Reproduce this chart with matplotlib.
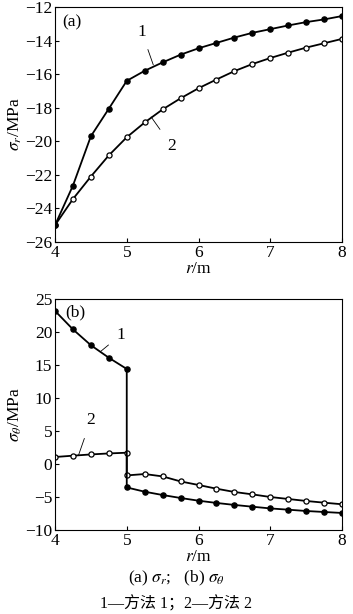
import matplotlib
matplotlib.use("Agg")
import matplotlib.pyplot as plt

r = [4.0, 4.25, 4.5, 4.75, 5.0, 5.25, 5.5, 5.75, 6.0, 6.25, 6.5, 6.75, 7.0, 7.25, 7.5, 7.75, 8.0]

sr_m1 = [-25.0, -22.64, -19.7, -18.06, -16.4, -15.8, -15.3, -14.84, -14.46, -14.14,
         -13.82, -13.54, -13.32, -13.1, -12.9, -12.74, -12.54]
sr_m2 = [-25.0, -23.44, -22.1, -20.84, -19.76, -18.88, -18.1, -17.44, -16.84, -16.32,
         -15.82, -15.4, -15.04, -14.72, -14.42, -14.16, -13.9]

# sigma_theta: inner part (r=4..5) and outer part (r=5..8)
r_in = [4.0, 4.25, 4.5, 4.75, 5.0]
r_out = [5.0, 5.25, 5.5, 5.75, 6.0, 6.25, 6.5, 6.75, 7.0, 7.25, 7.5, 7.75, 8.0]
st_m1_in = [23.2, 20.4, 18.0, 16.1, 14.4]
st_m1_out = [-3.55, -4.2, -4.7, -5.15, -5.56, -5.9, -6.2, -6.47, -6.73, -6.92, -7.12, -7.27, -7.42]
st_m2_in = [1.06, 1.26, 1.45, 1.6, 1.71]
st_m2_out = [-1.73, -1.52, -1.88, -2.64, -3.18, -3.74, -4.24, -4.6, -5.0, -5.3, -5.6, -5.86, -6.1]

x_ticks = [4, 5, 6, 7, 8]
ya_ticks = [-26, -24, -22, -20, -18, -16, -14, -12]
yb_ticks = [-10, -5, 0, 5, 10, 15, 20, 25]

plt.rcParams['font.family'] = ['Liberation Serif', 'Noto Sans CJK SC', 'DejaVu Sans']
plt.rcParams['mathtext.fontset'] = 'stix'
fs = 12.5

W, H = 353, 614
fig = plt.figure(figsize=(W / 100, H / 100), dpi=100)

def ax_rect(l, t, r_, b):
    return [l / W, 1 - b / H, (r_ - l) / W, (b - t) / H]

ax1 = fig.add_axes(ax_rect(55, 7, 342, 242))
ax2 = fig.add_axes(ax_rect(55, 299, 342, 530))

lw = 1.3
ms = 3.7
filled = dict(color='black', lw=lw, marker='o', ms=ms, mfc='black', mec='black')
opened = dict(color='black', lw=lw, marker='o', ms=ms, mfc='white', mec='black', mew=0.9)

ax1.plot(r, sr_m2, **opened, zorder=2)
ax1.plot(r, sr_m1, **filled, zorder=3)

ax2.plot(r_in + r_out, st_m2_in + st_m2_out, **opened, zorder=2)
ax2.plot(r_in + r_out, st_m1_in + st_m1_out, **filled, zorder=3)

for ax, yt in ((ax1, ya_ticks), (ax2, yb_ticks)):
    ax.set_xlim(4, 8)
    ax.set_xticks(x_ticks)
    ax.set_ylim(yt[0], yt[-1])
    ax.set_yticks(yt)
    ax.set_yticklabels([str(v).replace('-', '\u2212') for v in yt])
    ax.tick_params(direction='in', length=3, width=0.8, labelsize=fs, pad=2)
    for s in ax.spines.values():
        s.set_linewidth(0.8)
    ax.set_xlabel(r'$r$/m', fontsize=fs, labelpad=0)

ax1.set_ylabel(r'$\sigma_r$/MPa', fontsize=fs, labelpad=1)
ax2.set_ylabel(r'$\sigma_\theta$/MPa', fontsize=fs, labelpad=1)

ax1.text(0.025, 0.97, '(a)', transform=ax1.transAxes, fontsize=fs, va='top', ha='left')
ax2.text(0.035, 0.975, '(b)', transform=ax2.transAxes, fontsize=fs, va='top', ha='left')

# leader annotations (data coords)
ax1.annotate('1', xy=(5.37, -15.45), xytext=(5.21, -13.5), fontsize=fs,
             ha='center', va='center',
             arrowprops=dict(arrowstyle='-', lw=0.6, color='black', shrinkA=5, shrinkB=0))
ax1.annotate('2', xy=(5.34, -18.55), xytext=(5.63, -20.3), fontsize=fs,
             ha='center', va='center',
             arrowprops=dict(arrowstyle='-', lw=0.6, color='black', shrinkA=6, shrinkB=0))
ax2.annotate('1', xy=(4.63, 17.0), xytext=(4.92, 19.6), fontsize=fs,
             ha='center', va='center',
             arrowprops=dict(arrowstyle='-', lw=0.6, color='black', shrinkA=5, shrinkB=0))
ax2.annotate('2', xy=(4.33, 1.4), xytext=(4.5, 6.7), fontsize=fs,
             ha='center', va='center',
             arrowprops=dict(arrowstyle='-', lw=0.6, color='black', shrinkA=6, shrinkB=0))

fig.text(176 / W, 1 - 578 / H, r'(a) $\sigma_r$;   (b) $\sigma_\theta$', fontsize=fs,
         ha='center', va='center')
fig.text(176 / W, 1 - 604 / H, '1—方法 1；2—方法 2', fontsize=11.5,
         ha='center', va='center')

fig.savefig('out.png', dpi=100)
